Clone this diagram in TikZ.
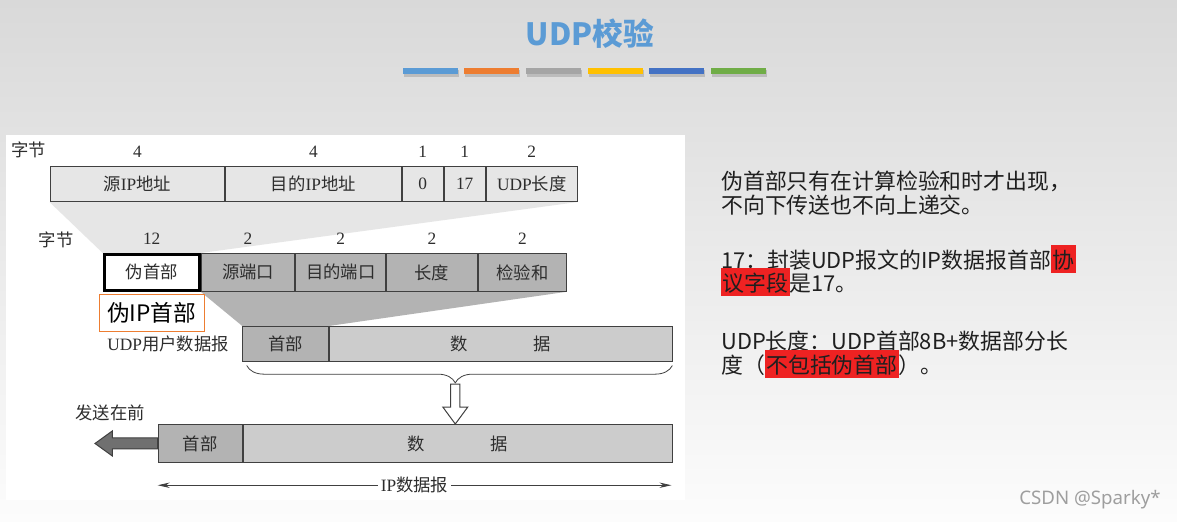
\documentclass[tikz,border=0pt]{standalone}
\usepackage{fontspec}
\setmainfont{Liberation Serif}
\newfontfamily\cjk{Noto Sans CJK SC}
\newfontfamily\wmfont{Noto Sans}
\usetikzlibrary{positioning,calc,arrows.meta,decorations.pathreplacing,backgrounds}
\definecolor{bgtop}{RGB}{217,217,217}
\definecolor{bgbot}{RGB}{252,252,252}
\definecolor{titleblue}{RGB}{91,155,213}
\definecolor{barorange}{RGB}{237,125,49}
\definecolor{bargray}{RGB}{165,165,165}
\definecolor{baryellow}{RGB}{255,192,0}
\definecolor{bardblue}{RGB}{68,114,196}
\definecolor{bargreen}{RGB}{112,173,71}
\definecolor{fieldlight}{RGB}{230,230,230}
\definecolor{fielddark}{RGB}{179,179,179}
\definecolor{fieldmid}{RGB}{204,204,204}
\definecolor{edgegray}{RGB}{64,64,64}
\definecolor{txtgray}{RGB}{45,45,45}
\definecolor{hlred}{RGB}{238,34,34}
\newcommand\zh[1]{{\cjk #1}}
\newcommand\dgsize{\fontsize{13}{15}\selectfont}
\newcommand\hlbox[1]{\smash{\setlength{\fboxsep}{1pt}\colorbox{hlred}{\rule[-0.16em]{0pt}{1.17em}#1}}}
\tikzset{
  fld/.style={draw=edgegray,line width=0.75pt,inner sep=0pt,minimum height=26.25pt,
              font=\dgsize,text=txtgray},
  lightfld/.style={fld,fill=fieldlight},
  darkfld/.style={fld,fill=fielddark},
  midfld/.style={fld,fill=fieldmid},
  num/.style={font=\dgsize,text=txtgray,inner sep=1pt},
  lbl/.style={font=\dgsize,text=txtgray,inner sep=1pt},
  notes/.style={font=\cjk\fontsize{16.4}{17.5}\selectfont,text=black!88,align=left,inner sep=0pt},
  dimarr/.style={{Stealth[length=9pt,width=4pt]}-{Stealth[length=9pt,width=4pt]},draw=edgegray,line width=0.6pt},
}

\begin{document}
\begin{tikzpicture}[x=0.75pt,y=-0.75pt]
\useasboundingbox (0,0) rectangle (1177,521);
\begin{pgfonlayer}{background}
  \shade[top color=bgtop,bottom color=bgbot] (0,0) rectangle (1177,521);
  \fill[white] (5.5,135) rectangle (685,500);
\end{pgfonlayer}

% title and colour bars
\node[font=\cjk\bfseries\fontsize{23}{26}\selectfont,text=titleblue] (title) at (590,34) {UDP校验};
\foreach \c/\xa in {titleblue/403,barorange/464,bargray/526,baryellow/588,bardblue/649,bargreen/711}{
  \fill[black,opacity=0.15] (\xa+1,70) rectangle ++(55,6.5);
  \fill[\c] (\xa,68) rectangle ++(55,6);
}

% pseudo header
\node[lbl] (bytes1) at (29,150) {\zh{字节}};
\node[lightfld,minimum width=131pt,anchor=north west] (srcip) at (49.5,166) {\zh{源}IP\zh{地址}};
\node[lightfld,minimum width=131.5pt,right=0pt of srcip] (dstip) {\zh{目的}IP\zh{地址}};
\node[lightfld,minimum width=31pt,right=0pt of dstip] (zero) {0};
\node[lightfld,minimum width=30.5pt,right=0pt of zero] (proto) {17};
\node[lightfld,minimum width=68.5pt,right=0pt of proto] (udplen) {UDP\zh{长度}};
\node[num,above=5.5pt of srcip] (n-srcip) {4};
\node[num,above=5.5pt of dstip] (n-dstip) {4};
\node[num,above=5.5pt of zero] (n-zero) {1};
\node[num,above=5.5pt of proto] (n-proto) {1};
\node[num,above=5.5pt of udplen] (n-udplen) {2};

% udp header row
\node[lbl] (bytes2) at (56,240) {\zh{字节}};
\node[fld,draw=black,line width=2.25pt,fill=white,minimum width=71.25pt,minimum height=26.8pt,
      anchor=north west] (pseudo) at (102.7,253) {\zh{伪首部}};
\node[darkfld,minimum width=70.2pt,minimum height=28.3pt,right=0pt of pseudo] (srcport) {\zh{源端口}};
\node[darkfld,minimum width=67.4pt,minimum height=28.3pt,right=0pt of srcport] (dstport) {\zh{目的端口}};
\node[darkfld,minimum width=67.9pt,minimum height=28.3pt,right=0pt of dstport] (ulen) {\zh{长度}};
\node[darkfld,minimum width=66.2pt,minimum height=28.3pt,right=0pt of ulen] (checksum) {\zh{检验和}};
\node[num,above=5pt of pseudo] (n-pseudo) {12};
\node[num,above=5.5pt of srcport] (n-srcport) {2};
\node[num,above=5.5pt of dstport] (n-dstport) {2};
\node[num,above=5.5pt of ulen] (n-ulen) {2};
\node[num,above=5.5pt of checksum] (n-checksum) {2};
\node[draw=barorange,line width=0.75pt,fill=white,minimum width=79pt,minimum height=28.3pt,inner sep=0pt,
      font=\cjk\fontsize{17}{19}\selectfont,text=black,below=1.5pt of pseudo] (pseudoip) {伪IP首部};

% udp datagram
\node[darkfld,minimum width=64pt,anchor=north west] (udphdr) at (242.3,326) {\zh{首部}};
\node[midfld,minimum width=257.5pt,right=0pt of udphdr] (udpdata) {\zh{数\hspace{49.25pt}据}\hspace{26pt}};
\node[lbl,left=9pt of udphdr] (udplbl) {UDP\zh{用户数据报}};

% ip datagram
\node[darkfld,minimum width=63pt,minimum height=28pt,anchor=north west] (iphdr) at (157.7,424.3) {\zh{首部}};
\node[midfld,minimum width=322pt,minimum height=28pt,right=0pt of iphdr] (ipdata) {\zh{数\hspace{49.25pt}据}\hspace{19.2pt}};
\node[lbl] (sendfirst) at (110,413) {\zh{发送在前}};

% wedges behind the rows
\begin{pgfonlayer}{background}
  \fill[fieldlight] (srcip.south west) -- (udplen.south east) -- (pseudo.north east) -- (pseudo.north west) -- cycle;
  \fill[fielddark] (srcport.south west) -- (checksum.south east) -- (udphdr.north east) -- (udphdr.north west) -- cycle;
\end{pgfonlayer}

% brace and hollow arrow
\draw[edgegray,line width=0.6pt,decorate,decoration={brace,mirror,amplitude=13pt,aspect=0.49}]
  ($(udphdr.south west)+(4.4,3.5)$) -- ($(udpdata.south east)+(-0.6,3.5)$);
\coordinate (bracetip) at (455.3,383);
\draw[edgegray,line width=0.75pt,fill=white] ($(bracetip)+(-4.6,1)$) -- ++(0,23) -- ++(-7.9,0)
  -- ++(12.5,17) -- ++(12.5,-17) -- ++(-7.9,0) -- ++(0,-23) -- cycle;

% send-first arrow
\draw[edgegray,line width=0.75pt,fill=black!56] ($(iphdr.west)+(0,-5.5)$) -- ++(-45.4,0) -- ++(0,-7)
  -- ++(-17.3,12.5) -- ++(17.3,12.5) -- ++(0,-7) -- ++(45.4,0) -- cycle;

% length of ip datagram
\draw[dimarr] ($(iphdr.south west)+(0,22.6)$) -- ($(ipdata.south east)+(-1.6,22.6)$)
  node[midway,fill=white,font=\dgsize,text=txtgray,inner sep=2pt] (iplen) {IP\zh{数据报}};

% notes
\node[notes,anchor=north west] (notes) at (721,171) {%
  伪首部只有在计算检验和时才出现，\\
  不向下传送也不向上递交。\\[23.8pt]
  17：封装UDP报文的IP数据报首部\hlbox{协}\\
  \hlbox{议字段}是17。\\[26.3pt]
  UDP长度：UDP首部8B+数据部分长\\
  度（\hlbox{不包括伪首部}）。};

\node[font=\wmfont\fontsize{14}{16}\selectfont,text=black!38] (mark) at (1090,500) {CSDN @Sparky*};
\end{tikzpicture}
\end{document}
